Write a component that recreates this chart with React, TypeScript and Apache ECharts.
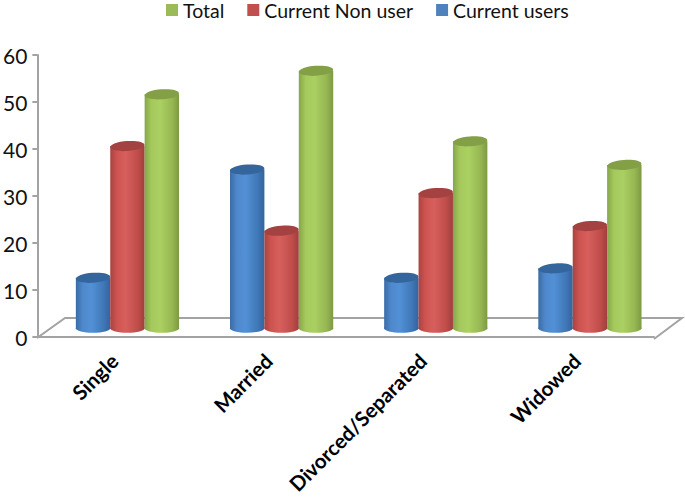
import React, { useEffect, useRef } from "react";
import * as echarts from "echarts";

const categories = ["Single", "Married", "Divorced/Separated", "Widowed"];
const currentUsers = [12, 35, 12, 14];
const currentNonUser = [40, 22, 30, 23];
const total = [51, 56, 41, 36];
const yTicks = { min: 0, max: 60, interval: 10 };

const FONT = "Lato, 'Open Sans', sans-serif";
const AXIS = "#a3a3a3";

const palettes = {
  blue: { legend: "#4f81bd", stops: ["#3a6ca6", "#4f88cc", "#5290d6", "#4078b8", "#33639c"], top: "#34659c" },
  red: { legend: "#c0504d", stops: ["#a84341", "#cf5451", "#d65f5c", "#c04d4a", "#9f3f3d"], top: "#a34240" },
  green: { legend: "#9bbb59", stops: ["#86a64a", "#a5c95c", "#abd062", "#97b752", "#7c9a42"], top: "#83a047" },
};

const makeRender = (seriesIndex: number, p: { stops: string[]; top: string }) => (params: any, api: any) => {
  const i = api.value(0);
  const v = api.value(1);
  const c = api.coord([i, v]);
  const base = api.coord([i, 0]);
  const w = 34.4;
  const cx = c[0] + 13 + (seriesIndex - 1) * w;
  const yTop = c[1] - 3;
  const yBottom = base[1] - 9;
  const grad = new echarts.graphic.LinearGradient(0, 0, 1, 0, [
    { offset: 0, color: p.stops[0] },
    { offset: 0.2, color: p.stops[1] },
    { offset: 0.45, color: p.stops[2] },
    { offset: 0.8, color: p.stops[3] },
    { offset: 1, color: p.stops[4] },
  ]);
  return {
    type: "group",
    children: [
      { type: "ellipse", shape: { cx, cy: yBottom, rx: w / 2, ry: 4.5 }, style: { fill: grad } },
      { type: "rect", shape: { x: cx - w / 2, y: yTop, width: w, height: yBottom - yTop }, style: { fill: grad } },
      {
        type: "ellipse",
        shape: { cx: 0, cy: 0, rx: w / 2, ry: 5 },
        x: cx,
        y: yTop,
        rotation: 0.07,
        style: { fill: p.top },
      },
    ],
  };
};

const toData = (vals: number[]) => vals.map((v, i) => [i, v]);

export default function App() {
  const ref = useRef<HTMLDivElement>(null);
  useEffect(() => {
    const chart = echarts.init(ref.current!, undefined, { renderer: "svg" });
    chart.setOption({
      animation: false,
      backgroundColor: "#fff",
      legend: {
        top: 0,
        left: 166,
        padding: 0,
        itemWidth: 12,
        itemHeight: 12,
        itemGap: 23,
        icon: "rect",
        data: ["Total", "Current Non user", "Current users"],
        textStyle: { fontFamily: FONT, fontSize: 19.5, lineHeight: 16, color: "#111" },
      },
      grid: { left: 37, right: 31, top: 55, bottom: 159 },
      xAxis: {
        type: "category",
        data: categories,
        axisLine: { lineStyle: { color: AXIS, width: 2 } },
        axisTick: { lineStyle: { color: AXIS, width: 2 }, length: 7 },
        axisLabel: {
          rotate: 45,
          interval: 0,
          fontFamily: FONT,
          fontSize: 20.5,
          fontWeight: "bold",
          color: "#000",
          margin: 20,
        },
      },
      yAxis: {
        type: "value",
        min: yTicks.min,
        max: yTicks.max,
        interval: yTicks.interval,
        splitLine: { show: false },
        axisLine: { show: true, lineStyle: { color: AXIS, width: 2 } },
        axisTick: { show: true, lineStyle: { color: AXIS, width: 2 }, length: 5 },
        axisLabel: { fontFamily: FONT, fontSize: 21, color: "#111", margin: 10 },
      },
      graphic: [
        {
          type: "polyline",
          z: 0,
          shape: { points: [[37, 338], [65, 318], [682, 318], [654, 339]] },
          style: { stroke: AXIS, lineWidth: 2, fill: "none" },
        },
      ],
      series: [
        {
          name: "Current users",
          type: "custom",
          renderItem: makeRender(0, palettes.blue),
          itemStyle: { color: palettes.blue.legend },
          data: toData(currentUsers),
          z: 3,
        },
        {
          name: "Current Non user",
          type: "custom",
          renderItem: makeRender(1, palettes.red),
          itemStyle: { color: palettes.red.legend },
          data: toData(currentNonUser),
          z: 4,
        },
        {
          name: "Total",
          type: "custom",
          renderItem: makeRender(2, palettes.green),
          itemStyle: { color: palettes.green.legend },
          data: toData(total),
          z: 5,
        },
      ],
    });
    return () => chart.dispose();
  }, []);
  return <div ref={ref} style={{ position: "absolute", left: 0, top: 0, width: 685, height: 497 }} />;
}
